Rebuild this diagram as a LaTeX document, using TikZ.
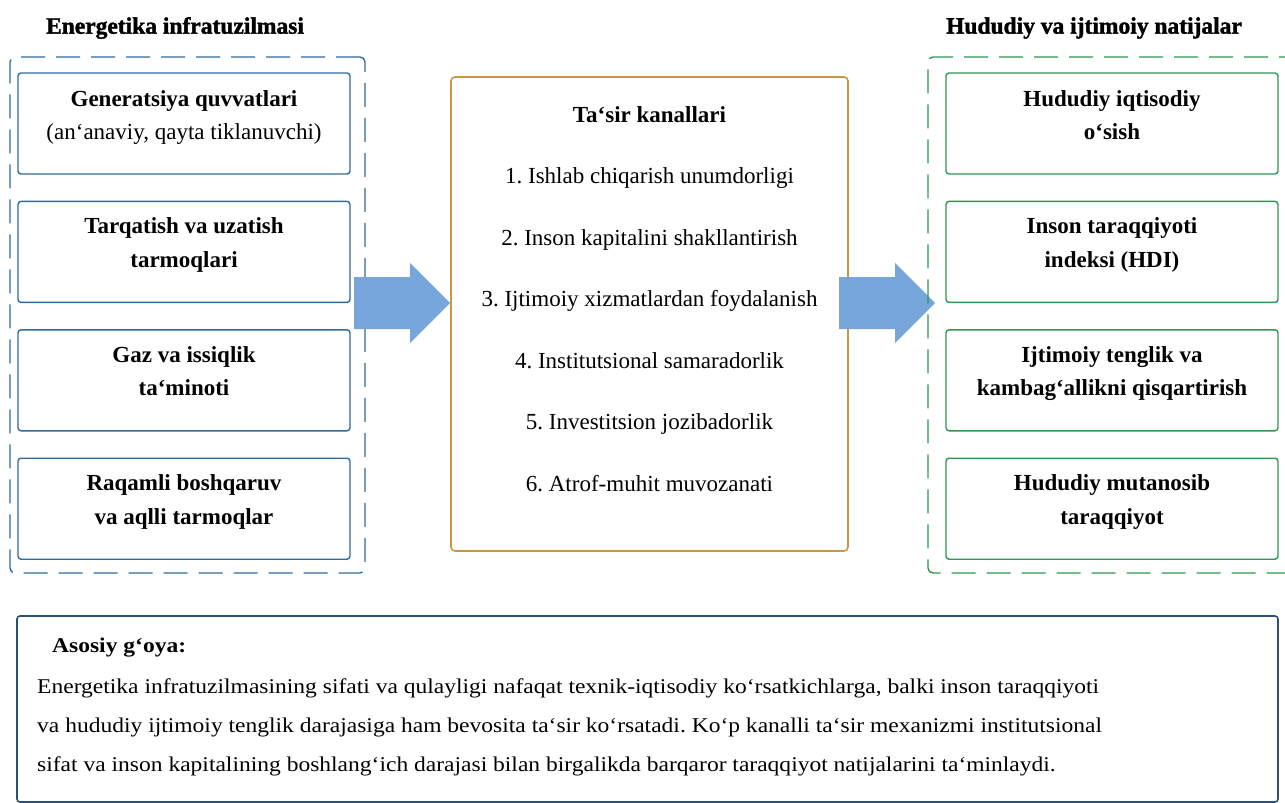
\documentclass[tikz,border=0pt]{standalone}
\usepackage{fontspec}
\setmainfont{Liberation Serif}
\newfontfamily\widefont{Liberation Serif}[FakeStretch=1.12]
\newfontfamily\heavyfont{Liberation Serif}[BoldFeatures={FakeBold=1.6}]
\usetikzlibrary{positioning,calc}
\definecolor{infblue}{RGB}{46,106,156}
\definecolor{resgreen}{RGB}{44,150,82}
\definecolor{chgold}{RGB}{200,152,64}
\definecolor{arrblue}{RGB}{118,166,218}
\definecolor{noteblue}{RGB}{40,82,122}
\frenchspacing

\begin{document}
\begin{tikzpicture}[x=1pt,y=-1pt,
  frame/.style={draw=infblue, line width=1.4pt, dash pattern=on 24pt off 11pt, rounded corners=5pt},
  lbox/.style={draw=infblue, line width=1.4pt, rounded corners=3pt, minimum width=332pt, minimum height=101pt, inner sep=0pt},
  rbox/.style={lbox, draw=resgreen},
  btxt/.style={font=\fontsize{23}{33.5}\selectfont\bfseries, align=center, anchor=north, inner sep=0pt},
  head/.style={font=\fontsize{23.5}{26}\selectfont\heavyfont\bfseries, inner sep=0pt}]
\clip (0,0) rectangle (1285,803);
% Energetika infratuzilmasi
\node[head] (infhead) at (175,28) {Energetika infratuzilmasi};
\node[frame, minimum width=355pt, minimum height=516pt] (infra) at (187.5,315) {};
\node[lbox] (gen) at (184,123.5) {};
\node[lbox, below=26pt of gen] (tarq) {};
\node[lbox, below=26pt of tarq] (gaz) {};
\node[lbox, below=26pt of gaz] (raq) {};
\node[btxt] (gen-t) at ([yshift=-18pt]gen.north) {Generatsiya quvvatlari\\{\mdseries (an‘anaviy, qayta tiklanuvchi)}};
\node[btxt] (tarq-t) at ([yshift=-17pt]tarq.north) {Tarqatish va uzatish\\tarmoqlari};
\node[btxt] (gaz-t) at ([yshift=-17pt]gaz.north) {Gaz va issiqlik\\ta‘minoti};
\node[btxt] (raq-t) at ([yshift=-17pt]raq.north) {Raqamli boshqaruv\\va aqlli tarmoqlar};
% Ta'sir kanallari
\node[draw=chgold, line width=1.6pt, rounded corners=4pt, minimum width=397pt, minimum height=474pt] (chan) at (649.5,314) {};
\node[font=\fontsize{23}{61.5}\selectfont, align=center, anchor=north, inner sep=0pt] (chan-t) at ([yshift=-30pt]chan.north)
  {{\bfseries Ta‘sir kanallari}\\1. Ishlab chiqarish unumdorligi\\2. Inson kapitalini shakllantirish\\3. Ijtimoiy xizmatlardan foydalanish\\4. Institutsional samaradorlik\\5. Investitsion jozibadorlik\\6. Atrof-muhit muvozanati};
\coordinate (t1) at ([yshift=11pt]chan.west);
\fill[arrblue] ($(t1)+(-96,-26)$) -- ($(t1)+(-40,-26)$) -- ($(t1)+(-40,-40)$) -- (t1)
  -- ($(t1)+(-40,40)$) -- ($(t1)+(-40,26)$) -- ($(t1)+(-96,26)$) -- cycle;
% Hududiy va ijtimoiy natijalar
\coordinate (t2) at ($(t1)+(485,0)$);
\fill[arrblue] ($(t2)+(-96,-26)$) -- ($(t2)+(-40,-26)$) -- ($(t2)+(-40,-40)$) -- (t2)
  -- ($(t2)+(-40,40)$) -- ($(t2)+(-40,26)$) -- ($(t2)+(-96,26)$) -- cycle;
\node[head] (reshead) at (1094,28) {Hududiy va ijtimoiy natijalar};
\node[frame, draw=resgreen, minimum width=380pt, minimum height=516pt] (res) at (1118,315) {};
\node[rbox] (osish) at (1112,123.5) {};
\node[rbox, below=26pt of osish] (hdi) {};
\node[rbox, below=26pt of hdi] (teng) {};
\node[rbox, below=26pt of teng] (mutan) {};
\node[btxt] (osish-t) at ([yshift=-18pt]osish.north) {Hududiy iqtisodiy\\o‘sish};
\node[btxt] (hdi-t) at ([yshift=-17pt]hdi.north) {Inson taraqqiyoti\\indeksi (HDI)};
\node[btxt] (teng-t) at ([yshift=-17pt]teng.north) {Ijtimoiy tenglik va\\kambag‘allikni qisqartirish};
\node[btxt] (mutan-t) at ([yshift=-17pt]mutan.north) {Hududiy mutanosib\\taraqqiyot};
% Asosiy g'oya
\node[draw=noteblue, line width=1.6pt, rounded corners=3pt, minimum width=1261pt, minimum height=186pt] (note) at (647.5,709) {};
\node[font=\fontsize{21}{24}\selectfont\widefont\bfseries, anchor=west, inner sep=0pt] (note-h) at (52,648) {Asosiy g‘oya:};
\node[font=\fontsize{21}{39}\selectfont\widefont, align=left, anchor=north west, inner sep=0pt] (note-t) at (37,679)
  {Energetika infratuzilmasining sifati va qulayligi nafaqat texnik-iqtisodiy ko‘rsatkichlarga, balki inson taraqqiyoti\\
   va hududiy ijtimoiy tenglik darajasiga ham bevosita ta‘sir ko‘rsatadi. Ko‘p kanalli ta‘sir mexanizmi institutsional\\
   sifat va inson kapitalining boshlang‘ich darajasi bilan birgalikda barqaror taraqqiyot natijalarini ta‘minlaydi.};
\end{tikzpicture}
\end{document}
